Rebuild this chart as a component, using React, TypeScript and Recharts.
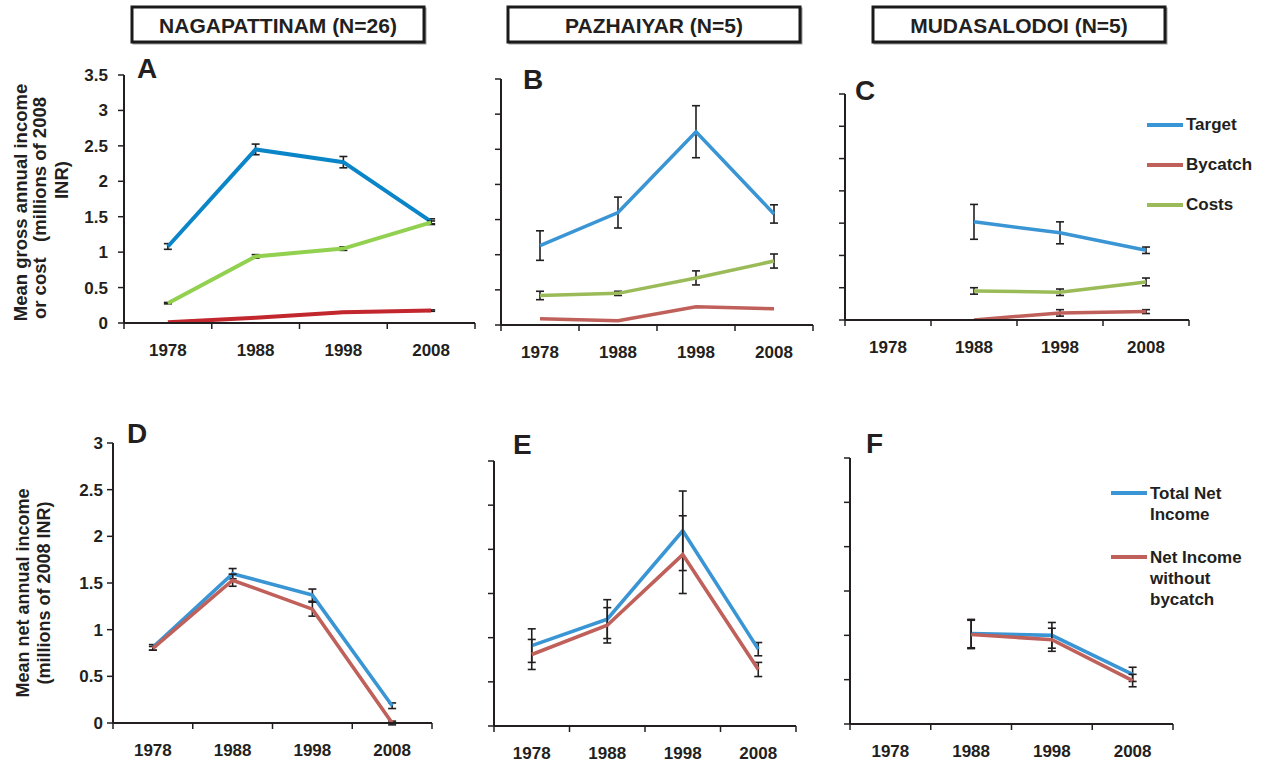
import React from 'react';
import { LineChart, Line, XAxis, YAxis, ErrorBar, Legend } from 'recharts';

// ---------- categories / labels ----------
const years = ['1978', '1988', '1998', '2008'];
const sites = ['NAGAPATTINAM (N=26)', 'PAZHAIYAR (N=5)', 'MUDASALODOI (N=5)'];
const panelLetters = ['A', 'B', 'C', 'D', 'E', 'F'];
const grossTicks = [0, 0.5, 1, 1.5, 2, 2.5, 3, 3.5];
const netTicks = [0, 0.5, 1, 1.5, 2, 2.5, 3];
const grossNames = ['Target', 'Bycatch', 'Costs'];
const netNames = ['Total Net Income', 'Net Income without bycatch'];
const grossLegendLines = [['Target'], ['Bycatch'], ['Costs']];
const netLegendLines = [['Total Net', 'Income'], ['Net Income', 'without', 'bycatch']];
const grossYLabel = ['Mean gross annual income', 'or cost   (millions of 2008', 'INR)'];
const netYLabel = ['Mean net annual income', '(millions of 2008 INR)'];

// ---------- A: Nagapattinam gross ----------
const nagTarget = [1.08, 2.45, 2.27, 1.43];
const nagTargetErr = [0.04, 0.075, 0.08, 0.04];
const nagBycatch = [0.01, 0.075, 0.15, 0.175];
const nagBycatchErr = [null, null, 0.01, 0.01];
const nagCosts = [0.28, 0.94, 1.05, 1.42];
const nagCostsErr = [0.01, 0.025, 0.025, 0.02];

// ---------- B: Pazhaiyar gross ----------
const pazTarget = [1.13, 1.6, 2.75, 1.58];
const pazTargetErr = [0.21, 0.22, 0.37, 0.13];
const pazBycatch = [0.09, 0.06, 0.26, 0.23];
const pazBycatchErr = [null, null, null, null];
const pazCosts = [0.42, 0.45, 0.67, 0.91];
const pazCostsErr = [0.06, 0.03, 0.1, 0.1];

// ---------- C: Mudasalodoi gross ----------
const mudTarget = [null, 1.52, 1.35, 1.08];
const mudTargetErr = [null, 0.27, 0.17, 0.05];
const mudBycatch = [null, 0.0, 0.11, 0.13];
const mudBycatchErr = [null, null, 0.05, 0.03];
const mudCosts = [null, 0.45, 0.43, 0.59];
const mudCostsErr = [null, 0.05, 0.05, 0.06];

// ---------- D: Nagapattinam net ----------
const nagNet = [0.81, 1.6, 1.37, 0.185];
const nagNetErr = [0.03, 0.055, 0.065, 0.03];
const nagNetNoBy = [0.8, 1.53, 1.22, 0.0];
const nagNetNoByErr = [0.02, 0.065, 0.075, 0.02];

// ---------- E: Pazhaiyar net ----------
const pazNet = [0.91, 1.21, 2.21, 0.87];
const pazNetErr = [0.19, 0.22, 0.45, 0.075];
const pazNetNoBy = [0.81, 1.14, 1.94, 0.64];
const pazNetNoByErr = [0.17, 0.2, 0.44, 0.08];

// ---------- F: Mudasalodoi net ----------
const mudNet = [null, 1.02, 1.0, 0.56];
const mudNetErr = [null, 0.16, 0.145, 0.08];
const mudNetNoBy = [null, 1.01, 0.95, 0.49];
const mudNetNoByErr = [null, 0.16, 0.13, 0.07];

// ---------- styles ----------
const INK = '#231f20';
const FONT = '"Liberation Sans", Arial, Helvetica, sans-serif';
const BLUE_A = '#0a86c8';
const GREEN_A = '#92d050';
const RED_A = '#c1272d';
const BLUE = '#3a95d4';
const RED = '#c0605a';
const GREEN = '#9bbb59';

type Series = { name: string; values: (number | null)[]; errs: (number | null)[]; color: string; width: number };
type LegendCfg = { x: number; y: number; lineHeight: number; gap: number; lines: string[][] };
type PanelCfg = {
  box: [number, number, number, number];
  yMax: number;
  yTicks: number[];
  showY: boolean;
  yTickMargin: number;
  series: Series[];
  legend?: LegendCfg;
};

const Y_W = 72;
const M_T = 10;
const M_R = 14;
const NUM_H = 6;
const CAT_H = 36;

function LegendBox({ cfg, series }: { cfg: LegendCfg; series: Series[] }) {
  return (
    <div style={{ fontFamily: FONT, fontWeight: 700, fontSize: 17, color: INK }}>
      {cfg.lines.map((lines, i) => (
        <div key={i} style={{ display: 'flex', alignItems: 'flex-start', marginBottom: cfg.gap }}>
          <div style={{ width: 36, height: cfg.lineHeight, display: 'flex', alignItems: 'center', marginRight: 3 }}>
            <div style={{ width: 36, height: 3.5, background: series[i].color }} />
          </div>
          <div style={{ lineHeight: cfg.lineHeight + 'px', whiteSpace: 'nowrap' }}>
            {lines.map((t, j) => (
              <div key={j}>{t}</div>
            ))}
          </div>
        </div>
      ))}
    </div>
  );
}

function Panel({ cfg }: { cfg: PanelCfg }) {
  const [l, t, r, b] = cfg.box;
  const width = Y_W + (r - l) + M_R;
  const height = M_T + (b - t) + NUM_H + CAT_H;
  const data = years.map((year, i) => {
    const row: any = { year, k: i };
    cfg.series.forEach((s, j) => {
      row['v' + j] = s.values[i];
      row['e' + j] = s.errs[i];
    });
    return row;
  });
  const bounds = years.map((_, i) => i).concat([years.length]);
  const tickStyle = { fill: INK, fontSize: 17, fontWeight: 700 };
  return (
    <div style={{ position: 'absolute', left: l - Y_W, top: t - M_T }}>
      <LineChart width={width} height={height} data={data} margin={{ top: M_T, right: M_R, left: 0, bottom: 0 }}>
        <XAxis
          xAxisId="a"
          type="number"
          dataKey="k"
          domain={[0, years.length]}
          ticks={bounds}
          allowDataOverflow
          height={NUM_H}
          tickSize={6}
          tickFormatter={() => ''}
          axisLine={{ stroke: INK, strokeWidth: 2 }}
          tickLine={{ stroke: INK, strokeWidth: 1.5 }}
        />
        <XAxis
          xAxisId="b"
          dataKey="year"
          type="category"
          scale="band"
          interval={0}
          height={CAT_H}
          axisLine={false}
          tickLine={false}
          tickSize={0}
          tickMargin={15}
          tick={tickStyle}
        />
        <YAxis
          yAxisId="y"
          type="number"
          domain={[0, cfg.yMax]}
          ticks={cfg.yTicks}
          allowDataOverflow
          interval={0}
          width={Y_W}
          tickSize={6}
          tickMargin={cfg.yTickMargin}
          tickFormatter={(v: number) => (cfg.showY ? String(v) : '')}
          axisLine={{ stroke: INK, strokeWidth: 2 }}
          tickLine={{ stroke: INK, strokeWidth: 1.5 }}
          tick={tickStyle}
        />
        {cfg.series.map((s, j) => (
          <Line
            key={j}
            xAxisId="b"
            yAxisId="y"
            type="linear"
            dataKey={'v' + j}
            name={s.name}
            stroke={s.color}
            strokeWidth={s.width}
            dot={false}
            activeDot={false}
            connectNulls={false}
            isAnimationActive={false}
          >
            <ErrorBar dataKey={'e' + j} direction="y" width={4} stroke={INK} strokeWidth={1.6} />
          </Line>
        ))}
        {cfg.legend && (
          <Legend
            layout="vertical"
            align="center"
            verticalAlign="middle"
            wrapperStyle={{ left: cfg.legend.x - (l - Y_W), top: cfg.legend.y - (t - M_T), width: 170 }}
            content={() => <LegendBox cfg={cfg.legend as LegendCfg} series={cfg.series} />}
          />
        )}
      </LineChart>
    </div>
  );
}

const grossSeries = (tv: any, te: any, bv: any, be: any, cv: any, ce: any, colors: string[], w: number): Series[] => [
  { name: grossNames[0], values: tv, errs: te, color: colors[0], width: w },
  { name: grossNames[1], values: bv, errs: be, color: colors[1], width: w },
  { name: grossNames[2], values: cv, errs: ce, color: colors[2], width: w },
];
const netSeries = (nv: any, ne: any, rv: any, re: any): Series[] => [
  { name: netNames[0], values: nv, errs: ne, color: BLUE, width: 3.6 },
  { name: netNames[1], values: rv, errs: re, color: RED, width: 3.6 },
];

const panels: PanelCfg[] = [
  {
    box: [124, 75, 475, 323], yMax: 3.5, yTicks: grossTicks, showY: true, yTickMargin: 10,
    series: grossSeries(nagTarget, nagTargetErr, nagBycatch, nagBycatchErr, nagCosts, nagCostsErr, [BLUE_A, RED_A, GREEN_A], 4),
  },
  {
    box: [501, 79, 813, 325], yMax: 3.5, yTicks: grossTicks, showY: false, yTickMargin: 4,
    series: grossSeries(pazTarget, pazTargetErr, pazBycatch, pazBycatchErr, pazCosts, pazCostsErr, [BLUE, RED, GREEN], 3.5),
  },
  {
    box: [845, 94, 1189, 320], yMax: 3.5, yTicks: grossTicks, showY: false, yTickMargin: 4,
    series: grossSeries(mudTarget, mudTargetErr, mudBycatch, mudBycatchErr, mudCosts, mudCostsErr, [BLUE, RED, GREEN], 3.5),
    legend: { x: 1147, y: 105, lineHeight: 40, gap: 0, lines: grossLegendLines },
  },
  {
    box: [113, 443, 432, 723], yMax: 3, yTicks: netTicks, showY: true, yTickMargin: 4,
    series: netSeries(nagNet, nagNetErr, nagNetNoBy, nagNetNoByErr),
  },
  {
    box: [494, 461, 796, 726], yMax: 3, yTicks: netTicks, showY: false, yTickMargin: 4,
    series: netSeries(pazNet, pazNetErr, pazNetNoBy, pazNetNoByErr),
  },
  {
    box: [850, 458, 1173, 724], yMax: 3, yTicks: netTicks, showY: false, yTickMargin: 4,
    series: netSeries(mudNet, mudNetErr, mudNetNoBy, mudNetNoByErr),
    legend: { x: 1111, y: 482.5, lineHeight: 21, gap: 22, lines: netLegendLines },
  },
];

// layout of decorations
const titleBoxes = [132, 508, 873];
const letterPos: [number, number][] = [
  [137, 78], [523, 89], [855, 100], [127, 443], [513, 454], [866, 453],
];

export default function App() {
  return (
    <div style={{ position: 'absolute', left: 0, top: 0, width: 1264, height: 763, background: '#fff', fontFamily: FONT, overflow: 'hidden' }}>
      {panels.map((p, i) => (
        <Panel key={i} cfg={p} />
      ))}
      <svg width={1264} height={763} style={{ position: 'absolute', left: 0, top: 0, pointerEvents: 'none' }}>
        {sites.map((s, i) => (
          <g key={s}>
            <rect x={titleBoxes[i] + 1.5} y={8.5} width={292} height={35} fill="none" stroke="#9a9a9a" strokeWidth={2} />
            <rect x={titleBoxes[i]} y={7} width={292} height={35} fill="#fff" stroke="#1a1a1a" strokeWidth={3} />
            <text x={titleBoxes[i] + 146} y={32.5} textAnchor="middle" fontSize={21} fontWeight={700} fill={INK} fontFamily={FONT}>
              {s}
            </text>
          </g>
        ))}
        {panelLetters.map((c, i) => (
          <text key={c} x={letterPos[i][0]} y={letterPos[i][1]} fontSize={28} fontWeight={700} fill={INK} fontFamily={FONT}>
            {c}
          </text>
        ))}
        {[
          [27, 202.5],
          [46, 208],
          [68, 180],
        ].map(([x, y], i) => (
          <text
            key={'g' + i}
            transform={`translate(${x},${y}) rotate(-90)`}
            textAnchor="middle"
            fontSize={18.5}
            fontWeight={700}
            fill={INK}
            fontFamily={FONT}
            style={{ whiteSpace: 'pre' }}
          >
            {grossYLabel[i]}
          </text>
        ))}
        {[
          [29, 593],
          [50, 593],
        ].map(([x, y], i) => (
          <text
            key={'n' + i}
            transform={`translate(${x},${y}) rotate(-90)`}
            textAnchor="middle"
            fontSize={18}
            fontWeight={700}
            fill={INK}
            fontFamily={FONT}
          >
            {netYLabel[i]}
          </text>
        ))}
      </svg>
    </div>
  );
}
